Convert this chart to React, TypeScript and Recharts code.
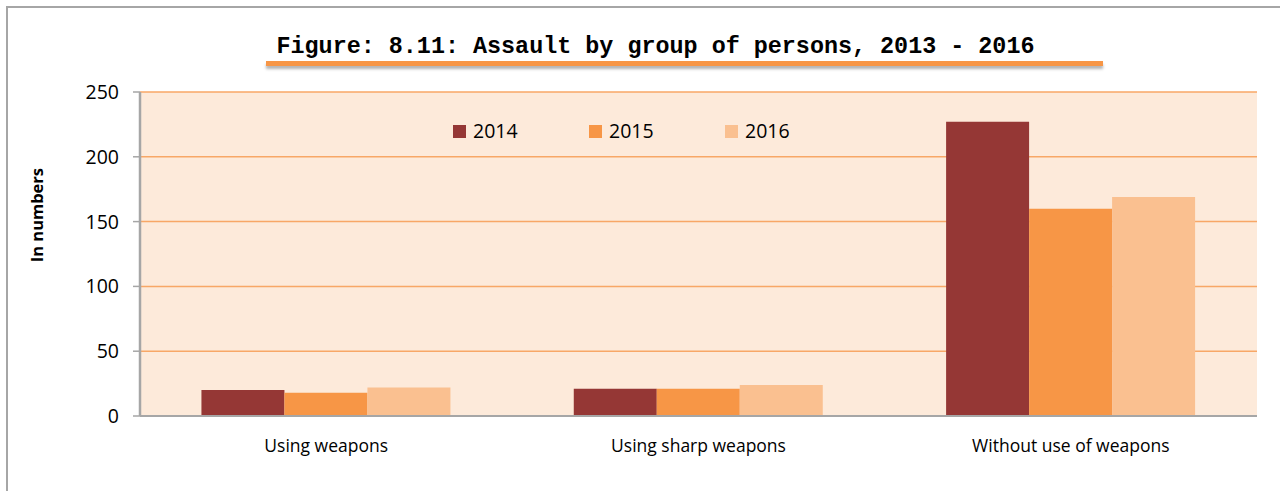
import { Bar, BarChart, CartesianGrid, Label, XAxis, YAxis } from "recharts";

const categories = ["Using weapons", "Using sharp weapons", "Without use of weapons"];
const years = ["2014", "2015", "2016"];
const values2014 = [20, 21, 227];
const values2015 = [18, 21, 160];
const values2016 = [22, 24, 169];
const yTicks = [0, 50, 100, 150, 200, 250];

const colors = ["#953735", "#F79646", "#FAC090"];
const data = categories.map((name, i) => ({
  name,
  "2014": values2014[i],
  "2015": values2015[i],
  "2016": values2016[i],
}));

const FONT = "'Open Sans', sans-serif";
const GREY = "#A6A6A6";

export default function App() {
  return (
    <div style={{ position: "absolute", left: 0, top: 0, width: 1280, height: 491, overflow: "hidden", background: "#fff", fontFamily: FONT }}>
      <div style={{ position: "absolute", left: 6, top: 6, width: 1300, height: 520, border: `2px solid ${GREY}`, boxSizing: "border-box" }} />

      <div
        style={{
          position: "absolute",
          left: 0,
          width: 1311,
          top: 32,
          textAlign: "center",
          fontFamily: "'Liberation Mono', monospace",
          fontWeight: 700,
          fontSize: 23.4,
          color: "#000",
          lineHeight: "30px",
        }}
      >
        Figure: 8.11: Assault by group of persons, 2013 - 2016
      </div>
      <div style={{ position: "absolute", left: 266, top: 61, width: 837, height: 5, background: "#F79646", boxShadow: "0 3px 3px rgba(0,0,0,0.3)" }} />

      <BarChart
        width={1280}
        height={491}
        data={data}
        margin={{ top: 92, right: 23, bottom: 45, left: 20 }}
        barCategoryGap="16.5%"
        barGap={0}
        style={{ position: "absolute", left: 0, top: 0 }}
      >
        <CartesianGrid vertical={false} fill="#FDEADA" stroke="#F8A766" strokeWidth={1.5} />
        <XAxis
          dataKey="name"
          tickLine={false}
          axisLine={{ stroke: GREY, strokeWidth: 2 }}
          tick={{ fill: "#000", fontSize: 17.5, fontFamily: FONT }}
          tickMargin={18}
          height={30}
        />
        <XAxis xAxisId="top" dataKey="name" orientation="top" tick={false} tickLine={false} height={0} axisLine={{ stroke: GREY, strokeWidth: 1.5 }} />
        <YAxis
          domain={[0, 250]}
          ticks={yTicks}
          width={120}
          tickSize={7}
          tickMargin={14}
          tickLine={{ stroke: GREY, strokeWidth: 1.5 }}
          axisLine={{ stroke: GREY, strokeWidth: 2.5 }}
          tick={{ fill: "#000", fontSize: 19.5, fontFamily: FONT }}
        >
          <Label
            content={({ viewBox }: any) => {
              const x = viewBox.x + 17;
              const y = viewBox.y + viewBox.height * 0.38;
              return (
                <text x={x} y={y} transform={`rotate(-90 ${x} ${y})`} textAnchor="middle" dominantBaseline="central" fontFamily={FONT} fontWeight={700} fontSize={16.5} fill="#000">
                  In numbers
                </text>
              );
            }}
          />
        </YAxis>
        <YAxis yAxisId="right" orientation="right" domain={[0, 250]} width={0} tick={false} tickLine={false} axisLine={{ stroke: GREY, strokeWidth: 2 }} />
        {years.map((y, i) => (
          <Bar key={y} dataKey={y} fill={colors[i]} isAnimationActive={false} />
        ))}
      </BarChart>

      <div style={{ position: "absolute", left: 453, top: 118, display: "flex", fontFamily: FONT, fontSize: 19.5, color: "#000" }}>
        {years.map((y, i) => (
          <div key={y} style={{ display: "flex", alignItems: "center", width: 136 }}>
            <span style={{ display: "inline-block", width: 13, height: 13, background: colors[i], marginRight: 7 }} />
            <span style={{ lineHeight: "26px" }}>{y}</span>
          </div>
        ))}
      </div>
    </div>
  );
}
